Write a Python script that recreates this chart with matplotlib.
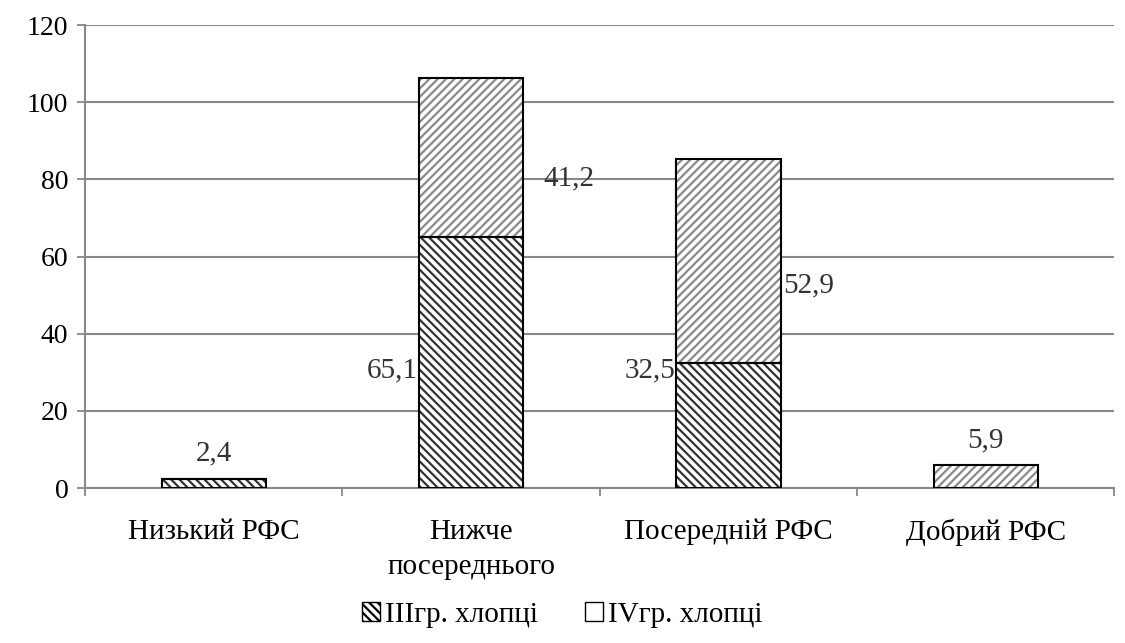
import numpy as np
import matplotlib
matplotlib.use("Agg")
from matplotlib import pyplot as plt
from matplotlib.patches import Patch

categories = ["Низький РФС", "Нижче\nпосереднього", "Посередній РФС", "Добрий РФС"]
group3 = [2.4, 65.1, 32.5, 0.0]
group4 = [0.0, 41.2, 52.9, 5.9]
labels3 = ["2,4", "65,1", "32,5", ""]
labels4 = ["", "41,2", "52,9", "5,9"]

plt.rcParams['font.family'] = ['Liberation Serif', 'DejaVu Serif']
plt.rcParams['hatch.linewidth'] = 1.6

fig = plt.figure(figsize=(11.25, 6.43), dpi=100)
ax = fig.add_axes([0.0756, 0.241, 0.915, 0.72])

x = np.arange(len(categories))
w = 0.405
g3 = np.array(group3)
g4 = np.array(group4)

ax.bar(x, g3, w, color="white", edgecolor="#333333", hatch="\\\\\\\\", linewidth=0, zorder=3)
ax.bar(x, g4, w, bottom=g3, color="white", edgecolor="#8a8a8a", hatch="////", linewidth=0, zorder=3)
ax.bar(x, g3, w, fill=False, edgecolor="black", linewidth=1.5, zorder=4)
ax.bar(x, g4, w, bottom=g3, fill=False, edgecolor="black", linewidth=1.5, zorder=4)

txt = dict(fontsize=21, color="#333333")
# data labels
ax.text(x[0], g3[0] + 6.5, labels3[0], ha="center", va="center", **txt)
ax.text(x[1] - w / 2 - 0.005, 30.5, labels3[1], ha="right", va="center", **txt)
ax.text(x[2] - w / 2 - 0.005, 30.5, labels3[2], ha="right", va="center", **txt)
ax.text(x[1] + w / 2 + 0.08, 80.3, labels4[1], ha="left", va="center", **txt)
ax.text(x[2] + w / 2 + 0.01, 52.6, labels4[2], ha="left", va="center", **txt)
ax.text(x[3], g4[3] + 6.5, labels4[3], ha="center", va="center", **txt)

ax.set_ylim(0, 120)
ax.set_yticks(range(0, 121, 20))
ax.set_xlim(-0.5, 3.5)
ax.set_xticks(x)
ax.set_xticklabels(categories, fontsize=21, linespacing=1.45)
ax.tick_params(axis="x", length=0, pad=22)
ax.set_xticks(np.arange(-0.5, 4, 1), minor=True)
ax.tick_params(axis="x", which="minor", length=6, color="#888888", width=1.3)
ax.tick_params(axis="y", labelsize=20, length=6, color="#888888", width=1.3, pad=6)
ax.yaxis.grid(True, color="#888888", linewidth=1.5, zorder=0)
ax.set_axisbelow(True)
for s in ["top", "right"]:
    ax.spines[s].set_visible(False)
for s in ["left", "bottom"]:
    ax.spines[s].set_color("#888888")
    ax.spines[s].set_linewidth(1.5)

handles = [Patch(facecolor="white", edgecolor="black", hatch="\\\\\\\\"),
           Patch(facecolor="white", edgecolor="black")]
fig.legend(handles, ["IIIгр. хлопці", "IVгр. хлопці"], loc="center", bbox_to_anchor=(0.5, 0.044),
           ncol=2, frameon=False, fontsize=21, handlelength=0.6, handleheight=0.6,
           handletextpad=0.2, columnspacing=1.6)

plt.savefig("out.png", dpi=100)
